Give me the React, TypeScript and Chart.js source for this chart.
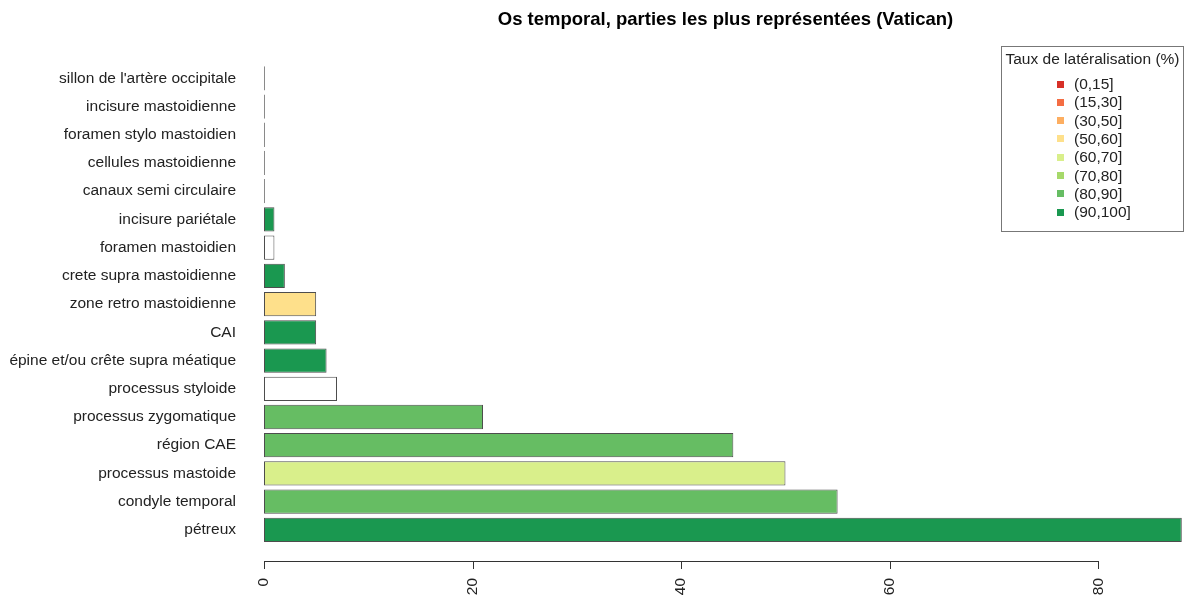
import React, { useEffect, useRef } from "react";
import { Chart, registerables } from "chart.js";

Chart.register(...registerables);

const categories = [
  "sillon de l'artère occipitale",
  "incisure mastoidienne",
  "foramen stylo mastoidien",
  "cellules mastoidienne",
  "canaux semi circulaire",
  "incisure pariétale",
  "foramen mastoidien",
  "crete supra mastoidienne",
  "zone retro mastoidienne",
  "CAI",
  "épine et/ou crête supra méatique",
  "processus styloide",
  "processus zygomatique",
  "région CAE",
  "processus mastoide",
  "condyle temporal",
  "pétreux",
];

const counts = [0, 0, 0, 0, 0, 1, 1, 2, 5, 5, 6, 7, 21, 45, 50, 55, 88];

const classes: (string | null)[] = [
  null, null, null, null, null,
  "(90,100]", null, "(90,100]", "(50,60]", "(90,100]", "(90,100]", null,
  "(80,90]", "(80,90]", "(60,70]", "(80,90]", "(90,100]",
];

const legendLabels = ["(0,15]", "(15,30]", "(30,50]", "(50,60]", "(60,70]", "(70,80]", "(80,90]", "(90,100]"];
const legendColors = ["#D73027", "#F46D43", "#FDAE61", "#FEE08B", "#D9EF8B", "#A6D96A", "#66BD63", "#1A9850"];

const xTicks = [0, 20, 40, 60, 80];

const TITLE = "Os temporal, parties les plus représentées (Vatican)";
const LEGEND_TITLE = "Taux de latéralisation (%)";

const FONT = "'Liberation Sans', Arial, Helvetica, sans-serif";

function colorFor(c: string | null) {
  if (!c) return "#FFFFFF";
  const i = legendLabels.indexOf(c);
  return i >= 0 ? legendColors[i] : "#FFFFFF";
}

const xAxisPlugin = {
  id: "rAxis",
  afterDraw(chart: any) {
    const ctx = chart.ctx;
    const xs = chart.scales.x;
    const y0 = chart.chartArea.bottom + 17;
    ctx.save();
    ctx.strokeStyle = "#333";
    ctx.lineWidth = 1;
    ctx.beginPath();
    const a = Math.round(xs.getPixelForValue(xTicks[0])) + 0.5;
    const b = Math.round(xs.getPixelForValue(xTicks[xTicks.length - 1])) + 0.5;
    ctx.moveTo(a, y0 + 0.5);
    ctx.lineTo(b, y0 + 0.5);
    for (const t of xTicks) {
      const px = Math.round(xs.getPixelForValue(t)) + 0.5;
      ctx.moveTo(px, y0);
      ctx.lineTo(px, y0 + 8);
    }
    ctx.stroke();
    ctx.restore();
  },
};

export default function App() {
  const ref = useRef<HTMLCanvasElement | null>(null);
  useEffect(() => {
    if (!ref.current) return;
    Chart.defaults.font.family = FONT;
    const chart = new Chart(ref.current, {
      type: "bar",
      data: {
        labels: categories,
        datasets: [
          {
            data: counts,
            backgroundColor: classes.map(colorFor),
            borderColor: counts.map((v) => (v === 0 ? "#8a8a8a" : "#4d4d4d")),
            borderWidth: 1,
            borderSkipped: false,
            barPercentage: 0.86,
            categoryPercentage: 1,
            minBarLength: 1,
          },
        ],
      },
      options: {
        indexAxis: "y",
        animation: false,
        responsive: true,
        maintainAspectRatio: false,
        layout: { padding: { left: 0, right: 2, top: 0, bottom: 0 } },
        plugins: {
          legend: { display: false },
          tooltip: { enabled: false },
          title: {
            display: true,
            text: TITLE,
            fullSize: false,
            color: "#000",
            font: { size: 18.5, weight: "bold", family: FONT, lineHeight: 1.2 },
            padding: { top: 9, bottom: 33 },
          },
        },
        scales: {
          x: {
            type: "linear",
            min: 0,
            max: 88.5,
            grid: { display: false, drawTicks: false },
            border: { display: false },
            afterFit: (s: any) => {
              s.height = 54;
            },
            afterBuildTicks: (s: any) => {
              s.ticks = xTicks.map((v) => ({ value: v }));
            },
            ticks: {
              includeBounds: false,
              autoSkip: false,
              minRotation: 90,
              maxRotation: 90,
              padding: 34,
              color: "#222",
              font: { size: 15.5, family: FONT },
            },
          },
          y: {
            type: "category",
            offset: true,
            grid: { display: false, drawTicks: false },
            border: { display: false },
            afterFit: (s: any) => {
              s.width = 264;
            },
            ticks: {
              padding: 28,
              color: "#222",
              autoSkip: false,
              font: { size: 15.5, family: FONT },
            },
          },
        },
      },
      plugins: [xAxisPlugin],
    } as any);
    return () => chart.destroy();
  }, []);

  return (
    <div style={{ position: "fixed", left: 0, top: 0, width: 1189, height: 598, background: "#fff" }}>
      <canvas ref={ref} />
      <div
        style={{
          position: "absolute",
          left: 1001,
          top: 46,
          width: 183,
          height: 186,
          border: "1px solid #777",
          fontFamily: FONT,
          fontSize: 15.5,
          color: "#222",
          boxSizing: "border-box",
        }}
      >
        <div style={{ position: "absolute", left: 0, right: 0, top: 3, textAlign: "center", whiteSpace: "nowrap" }}>
          {LEGEND_TITLE}
        </div>
        {legendLabels.map((l, i) => (
          <div
            key={l}
            style={{ position: "absolute", left: 55, top: 28 + i * 18.3, height: 18, display: "flex", alignItems: "center", whiteSpace: "nowrap" }}
          >
            <span style={{ display: "inline-block", width: 7, height: 7, background: legendColors[i], marginRight: 10 }} />
            <span>{l}</span>
          </div>
        ))}
      </div>
    </div>
  );
}
